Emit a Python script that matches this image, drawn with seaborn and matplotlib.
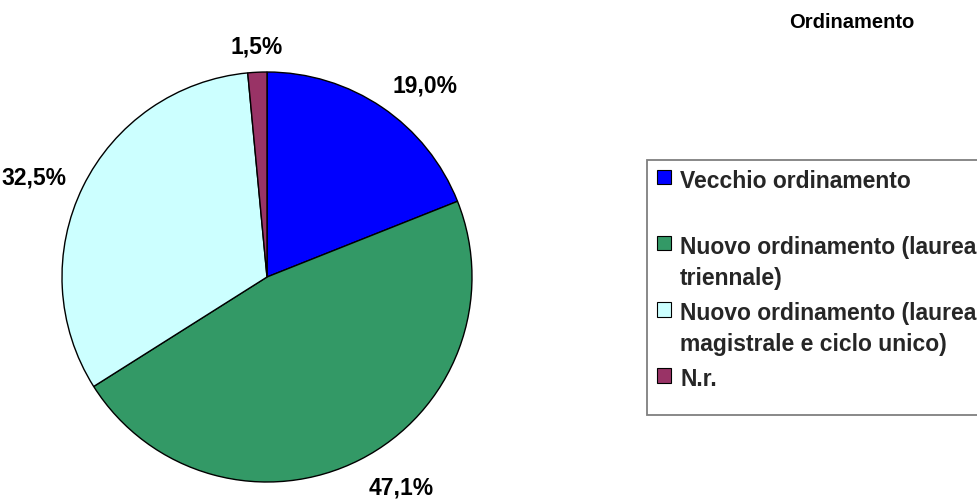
import numpy as np
import matplotlib
matplotlib.use("Agg")
import matplotlib.pyplot as plt
import seaborn as sns
from matplotlib.patches import Patch, Rectangle

# ---- data ----
categories = ["Vecchio ordinamento",
              "Nuovo ordinamento (laurea triennale)",
              "Nuovo ordinamento (laurea magistrale e ciclo unico)",
              "N.r."]
legend_labels = ["Vecchio ordinamento\n ",
                 "Nuovo ordinamento (laurea\ntriennale)",
                 "Nuovo ordinamento (laurea\nmagistrale e ciclo unico)",
                 "N.r.\n "]
values = [19.0, 47.1, 32.5, 1.5]
value_labels = ["19,0%", "47,1%", "32,5%", "1,5%"]
colors = ["#0000FF", "#339966", "#CCFFFF", "#993366"]
title = "Ordinamento"

sns.set_theme(style="white")
plt.rcParams['font.family'] = ['Liberation Sans', 'DejaVu Sans']
palette = sns.color_palette(colors)

W, H = 978, 499
fig = plt.figure(figsize=(W / 100, H / 100), dpi=100)
fig.patch.set_facecolor("white")

# pie axes: centre (267, 277) px, radius 205 px
cx, cy, r = 267, 277, 205
ax = fig.add_axes([(cx - r) / W, (H - cy - r) / H, 2 * r / W, 2 * r / H])
lab_iter = iter(value_labels)
wedges, texts, autotexts = ax.pie(
    values, colors=palette, startangle=90, counterclock=False, radius=1,
    autopct=lambda p: next(lab_iter), pctdistance=1.2,
    wedgeprops=dict(edgecolor="black", linewidth=1.0),
    textprops=dict(fontsize=16.5, fontweight="bold", color="black"))
ax.set_xlim(-1, 1)
ax.set_ylim(-1, 1)
ax.set_aspect("equal")
ax.axis("off")
for w in wedges:
    w.set_clip_on(False)

# place labels "outside end": nearest edge of the label at a fixed gap from the pie
gap = 0.09
for t in autotexts:
    x, y = t.get_position()
    phi = np.arctan2(y, x)
    c, s = np.cos(phi), np.sin(phi)
    R = 1 + gap
    t.set_position((R * c, R * s))
    t.set_ha("left" if c > 0.35 else ("right" if c < -0.35 else "center"))
    t.set_va("baseline" if s > 0.5 else ("top" if s < -0.5 else "center"))

# legend box (its right side runs past the figure edge, as in the original)
box_left, box_top, box_bottom = 647, 160, 415
fig.patches.append(Rectangle((box_left / W, 1 - box_bottom / H), (W + 20 - box_left) / W,
                             (box_bottom - box_top) / H, transform=fig.transFigure,
                             fill=True, facecolor="white", edgecolor="#7f7f7f",
                             linewidth=1.3, zorder=0))

# legend
handles = [Patch(facecolor=col, edgecolor="black", linewidth=0.8) for col in palette]
leg = fig.legend(handles, legend_labels, loc="upper left",
                 bbox_to_anchor=(box_left / W, 1 - box_top / H), bbox_transform=fig.transFigure,
                 borderaxespad=0, frameon=False,
                 prop={"weight": "bold", "size": 16.5},
                 handlelength=0.62, handleheight=0.62, handletextpad=0.4,
                 labelspacing=0.52, borderpad=0.42)
for t in leg.get_texts():
    t.set_linespacing(1.45)
for col in leg._legend_handle_box.get_children():
    for row in col.get_children():
        row.align = "top"

fig.text(852 / W, 1 - 28 / H, title, ha="center", va="baseline",
         fontsize=14.5, fontweight="bold", color="black")

fig.savefig("out.png", dpi=100, facecolor="white")
